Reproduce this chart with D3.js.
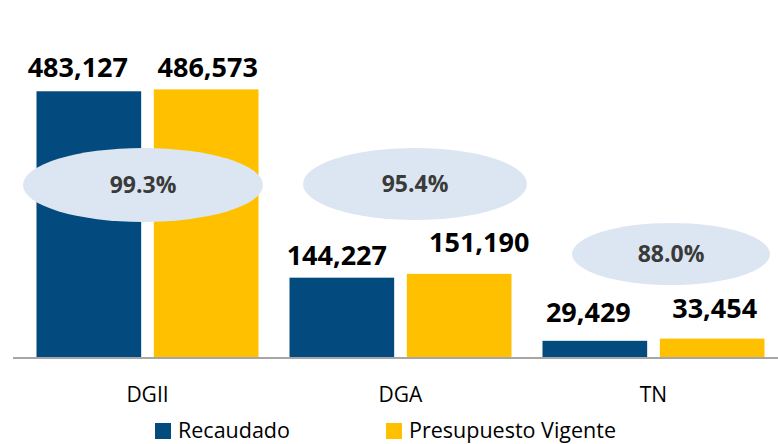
<!DOCTYPE html>
<html>
<head>
<meta charset="utf-8">
<script src="https://cdn.jsdelivr.net/npm/d3@7"></script>
<style>
  html, body { margin: 0; padding: 0; background: #fff; }
  svg { display: block; }
  text { font-family: "Open Sans", "Noto Sans", sans-serif; }
</style>
</head>
<body>
<svg id="chart" width="778" height="444"></svg>
<script>
// ---- data ----
const categories = ["DGII", "DGA", "TN"];
const seriesNames = ["Recaudado", "Presupuesto Vigente"];
const recaudado = [483127, 144227, 29429];
const presupuesto = [486573, 151190, 33454];
const pctLabels = ["99.3%", "95.4%", "88.0%"];

// ---- layout (not data) ----
const colors = ["#034A7F", "#FFC000"];
const labelNudge = [[[-11, -1], [1.5, 1]], [[-5, 0], [20, -9]], [[-6.5, -6], [2.5, -7.5]]];
const bubbleLayout = [
  { dx: -4.5, cy: 185, rx: 120, ry: 37 },
  { dx: 14.5, cy: 184, rx: 112, ry: 36 },
  { dx: 17.5, cy: 254, rx: 99, ry: 31 }
];

const svg = d3.select("#chart");
const baseY = 357;

const x0 = d3.scaleBand().domain(categories).range([21, 780])
  .paddingInner(0.1225).paddingOuter(0.06125);
const x1 = d3.scaleBand().domain(seriesNames).range([0, x0.bandwidth()])
  .paddingInner(0.108).paddingOuter(0);
const y = d3.scaleLinear().domain([0, 500000]).range([baseY, 82]);

const rows = categories.map((c, i) => ({
  cat: c, i,
  vals: [recaudado[i], presupuesto[i]]
}));

// bars
const g = svg.append("g");
rows.forEach(r => {
  r.vals.forEach((v, k) => {
    g.append("rect")
      .attr("x", x0(r.cat) + x1(seriesNames[k]))
      .attr("y", y(v))
      .attr("width", x1.bandwidth())
      .attr("height", y(0) - y(v))
      .attr("fill", colors[k]);
  });
});

// axis baseline
const axis = svg.append("g").attr("transform", `translate(0,${baseY + 1})`)
  .call(d3.axisBottom(x0).tickSize(0).tickPadding(0).tickFormat(""));
axis.select(".domain").attr("stroke", "#A6A6A6").attr("stroke-width", 2)
  .attr("d", "M13,0H778");

// category labels
rows.forEach(r => {
  svg.append("text")
    .attr("x", x0(r.cat) + x0.bandwidth() / 2)
    .attr("y", 402)
    .attr("text-anchor", "middle")
    .attr("font-size", 21)
    .attr("fill", "#000")
    .text(r.cat);
});

// value labels
const fmt = d3.format(",");
rows.forEach(r => {
  r.vals.forEach((v, k) => {
    const n = labelNudge[r.i][k];
    svg.append("text")
      .attr("x", x0(r.cat) + x1(seriesNames[k]) + x1.bandwidth() / 2 + n[0])
      .attr("y", y(v) - 13 + n[1])
      .attr("text-anchor", "middle")
      .attr("font-size", 27)
      .attr("font-weight", "bold")
      .attr("fill", "#000")
      .text(fmt(v));
  });
});

// percentage bubbles
rows.forEach(r => {
  const b = bubbleLayout[r.i];
  const cx = x0(r.cat) + x0.bandwidth() / 2 + b.dx;
  svg.append("ellipse")
    .attr("cx", cx).attr("cy", b.cy)
    .attr("rx", b.rx).attr("ry", b.ry)
    .attr("fill", "#DCE6F2");
  svg.append("text")
    .attr("x", cx).attr("y", b.cy + 8)
    .attr("text-anchor", "middle")
    .attr("font-size", 23)
    .attr("font-weight", "bold")
    .attr("fill", "#3A3A3A")
    .text(pctLabels[r.i]);
});

// legend
const legendX = [155, 386];
seriesNames.forEach((s, k) => {
  svg.append("rect")
    .attr("x", legendX[k]).attr("y", 423)
    .attr("width", 16).attr("height", 16)
    .attr("fill", colors[k]);
  svg.append("text")
    .attr("x", legendX[k] + 23).attr("y", 438)
    .attr("font-size", 21.5)
    .attr("fill", "#000")
    .text(s);
});
</script>
</body>
</html>
